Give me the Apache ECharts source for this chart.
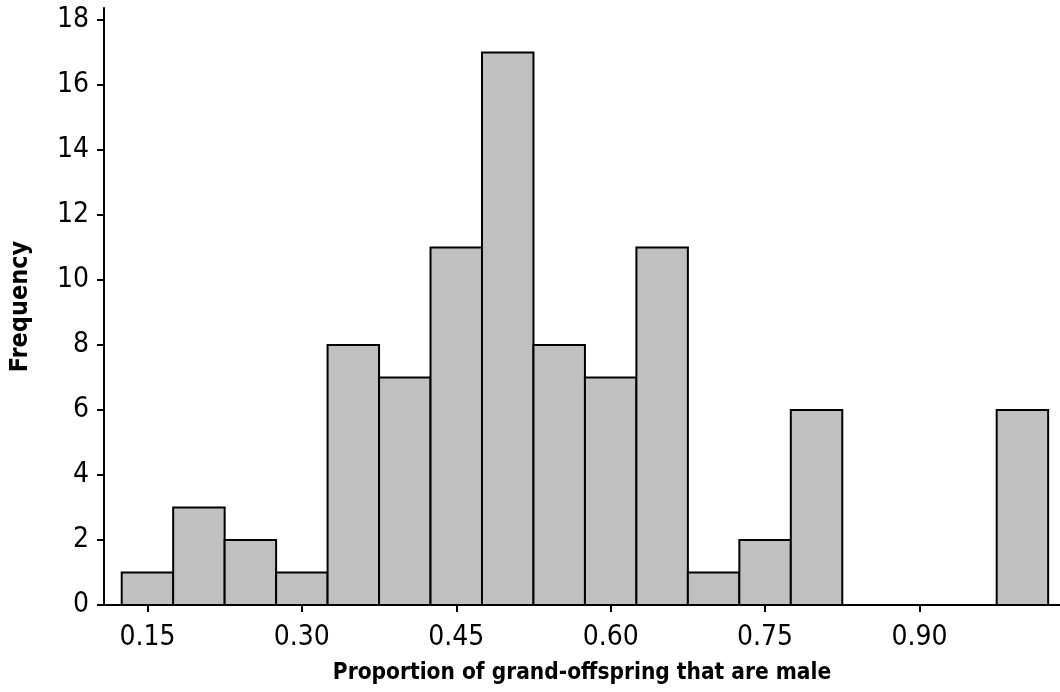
<!DOCTYPE html>
<html>
<head>
<meta charset="utf-8">
<style>
  html, body { margin: 0; padding: 0; background: #fff; }
  #chart { width: 1060px; height: 692px; }
</style>
<script src="https://cdn.jsdelivr.net/npm/echarts@6/dist/echarts.min.js"></script>
</head>
<body>
<div id="chart"></div>
<script>
// Histogram bins (centre of each 0.05-wide bin) and their counts
const binCenters = [0.15, 0.20, 0.25, 0.30, 0.35, 0.40, 0.45, 0.50, 0.55, 0.60,
                    0.65, 0.70, 0.75, 0.80, 0.85, 0.90, 0.95, 1.00];
const counts     = [1, 3, 2, 1, 8, 7, 11, 17, 8, 7,
                    11, 1, 2, 6, 0, 0, 0, 6];
const binWidth = 0.05;

const xTicks = [0.15, 0.30, 0.45, 0.60, 0.75, 0.90];
const yTicks = [0, 2, 4, 6, 8, 10, 12, 14, 16, 18];

const xTitle = 'Proportion of grand-offspring that are male';
const yTitle = 'Frequency';

const FONT = '"DejaVu Sans Condensed", "DejaVu Sans", sans-serif';

const chart = echarts.init(document.getElementById('chart'), null, { renderer: 'canvas' });

const xMin = 0.1078, xMax = 1.0365;

chart.setOption({
  animation: false,
  backgroundColor: '#ffffff',
  grid: { left: 104, right: 0, top: 8, bottom: 87, containLabel: false, outerBoundsMode: 'none' },
  xAxis: [{
    type: 'value',
    min: xMin,
    max: xMax,
    position: 'bottom',
    splitLine: { show: false },
    axisLine: { show: true, onZero: false, lineStyle: { color: '#000', width: 2 } },
    axisTick: { show: true, length: 7, inside: false, customValues: xTicks,
                lineStyle: { color: '#000', width: 2 } },
    axisLabel: { show: true, customValues: xTicks, margin: 19,
                 formatter: v => v.toFixed(2),
                 color: '#000', fontSize: 28, fontFamily: FONT },
    name: xTitle,
    nameLocation: 'middle',
    nameGap: 57,
    nameTextStyle: { color: '#000', fontSize: 22.5, fontWeight: 'bold', fontFamily: FONT }
  }, {
    // top frame line
    type: 'value',
    min: xMin,
    max: xMax,
    position: 'top',
    splitLine: { show: false },
    axisLine: { show: true, lineStyle: { color: '#000', width: 2 } },
    axisTick: { show: false },
    axisLabel: { show: false }
  }],
  yAxis: {
    type: 'value',
    min: 0,
    max: 18.37,
    splitLine: { show: false },
    axisLine: { show: true, lineStyle: { color: '#000', width: 2 } },
    axisTick: { show: true, length: 7, customValues: yTicks,
                lineStyle: { color: '#000', width: 2 } },
    axisLabel: { show: true, customValues: yTicks, margin: 15,
                 color: '#000', fontSize: 28, fontFamily: FONT },
    name: yTitle,
    nameLocation: 'middle',
    nameGap: 71,
    nameTextStyle: { color: '#000', fontSize: 25, fontWeight: 'bold', fontFamily: FONT }
  },
  series: [{
    type: 'custom',
    xAxisIndex: 0,
    yAxisIndex: 0,
    data: binCenters.map((c, i) => [c, counts[i]]),
    renderItem: function (params, api) {
      const c = api.value(0);
      const n = api.value(1);
      if (!n) return null;
      const tl = api.coord([c - binWidth / 2, n]);
      const br = api.coord([c + binWidth / 2, 0]);
      return {
        type: 'rect',
        shape: { x: tl[0], y: tl[1], width: br[0] - tl[0], height: br[1] - tl[1] },
        style: { fill: '#c0c0c0', stroke: '#000', lineWidth: 2 }
      };
    }
  }]
});
</script>
</body>
</html>
